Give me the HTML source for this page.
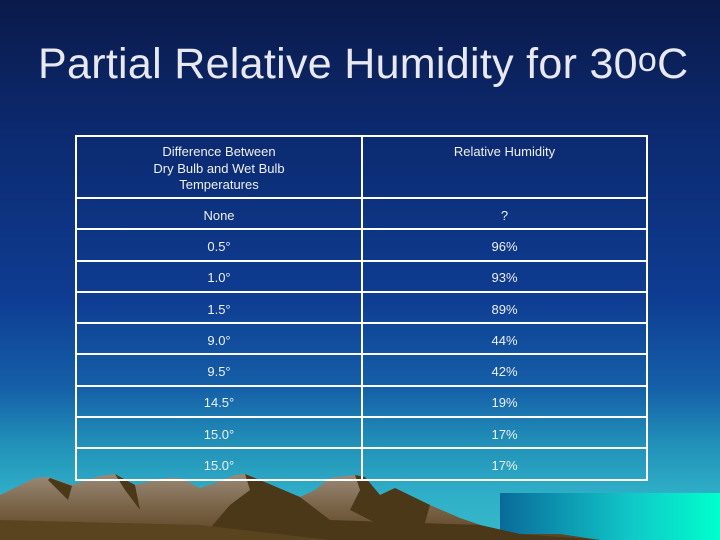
<!DOCTYPE html>
<html><head><meta charset="utf-8"><style>
html,body{margin:0;padding:0}
body{width:720px;height:540px;position:relative;overflow:hidden;font-family:"Liberation Sans",Arial,sans-serif;
background:linear-gradient(to bottom,#0a1a4a 0%,#0c2a70 25%,#0e3c92 55%,#1560a8 72%,#2190b8 82%,#30b0c8 92%,#38b8c8 100%);}
#title{position:absolute;left:38px;top:40px;font-size:43px;color:#e8e8f0;white-space:nowrap;letter-spacing:0.3px}
#title sup{font-size:34px;vertical-align:7px}
svg{position:absolute;left:0;top:0}
table{position:absolute;left:75px;top:135px;width:571px;border-collapse:collapse;color:#f0f0f0;font-size:13px;table-layout:fixed}
td{border:2px solid #fff;text-align:center;height:26.3px;padding:3px 0 0 0}
tr.h td{height:53px;vertical-align:top;padding-top:7px;line-height:16.5px}
</style></head><body>
<svg width="720" height="540">
<defs>
<linearGradient id="w" x1="0" x2="1"><stop offset="0" stop-color="#0a6a9a"/><stop offset="0.6" stop-color="#10c8c8"/><stop offset="1" stop-color="#00ffcc"/></linearGradient>
<linearGradient id="m" x1="0" y1="0" x2="0" y2="1"><stop offset="0" stop-color="#9a8a78"/><stop offset="0.5" stop-color="#7a6448"/><stop offset="1" stop-color="#5a4020"/></linearGradient>
</defs>
<rect x="500" y="493" width="220" height="47" fill="url(#w)"/>
<polygon fill="url(#m)" points="0,495 35,478 48,477 72,485 100,476 115,474 135,485 165,478 180,478 200,488 215,483 235,475 245,474 260,480 275,487 300,497 315,490 330,478 355,475 365,477 380,495 395,488 430,505 460,518 495,530 520,534 560,534 600,540 0,540"/>
<polygon fill="#4a3818" points="50,478 72,486 68,500 60,492 48,480"/>
<polygon fill="#4a3818" points="115,474 135,485 140,510 125,490"/>
<polygon fill="#4a3818" points="245,474 260,480 300,497 330,520 480,525 520,534 600,540 200,540 230,505 250,490"/>
<polygon fill="#4a3818" points="355,475 365,477 380,495 395,488 430,505 420,540 370,520 350,510 360,490"/>
<polygon fill="#5a4420" points="0,520 200,525 330,540 0,540"/>
</svg>
<div id="title">Partial Relative Humidity for 30<sup>o</sup>C</div>
<table>
<colgroup><col style="width:286px"><col style="width:285px"></colgroup>
<tr class="h"><td>Difference Between<br>Dry Bulb and Wet Bulb<br>Temperatures</td><td>Relative Humidity</td></tr>
<tr><td>None</td><td>?</td></tr>
<tr><td>0.5°</td><td>96%</td></tr>
<tr><td>1.0°</td><td>93%</td></tr>
<tr><td>1.5°</td><td>89%</td></tr>
<tr><td>9.0°</td><td>44%</td></tr>
<tr><td>9.5°</td><td>42%</td></tr>
<tr><td>14.5°</td><td>19%</td></tr>
<tr><td>15.0°</td><td>17%</td></tr>
<tr><td>15.0°</td><td>17%</td></tr>
</table>
</body></html>
